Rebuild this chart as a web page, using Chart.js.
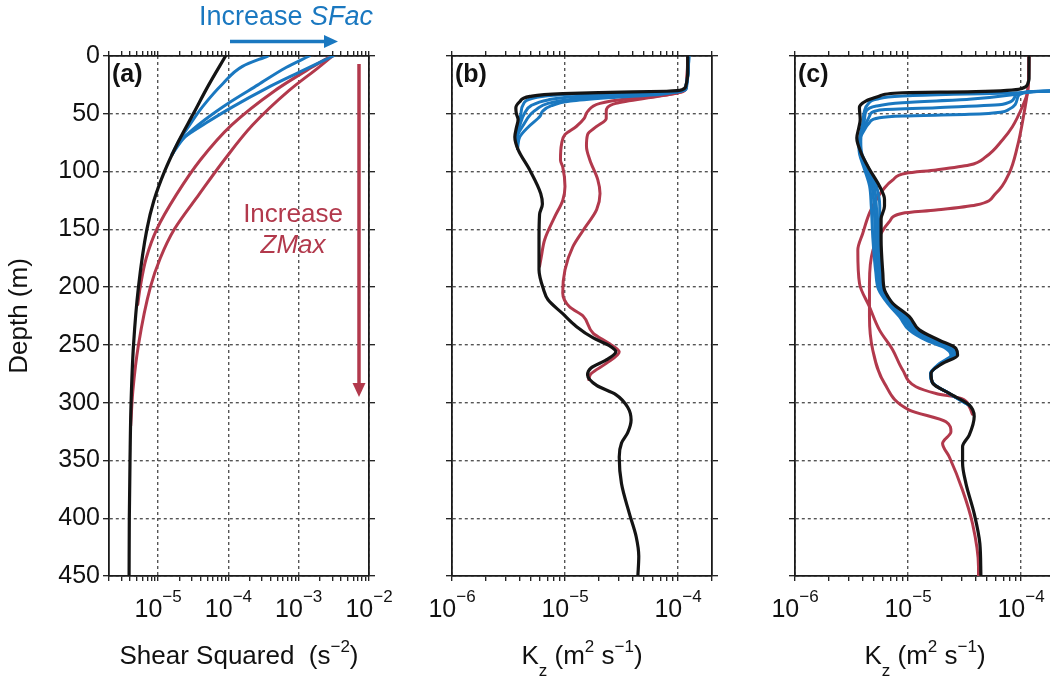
<!DOCTYPE html>
<html>
<head>
<meta charset="utf-8">
<title>Shear and Kz profiles</title>
<script src="https://cdn.jsdelivr.net/npm/chart.js@4.4.1/dist/chart.umd.min.js"></script>
<style>
  html, body { margin: 0; padding: 0; background: #fff; }
  #wrap { position: relative; width: 1050px; height: 682px; overflow: hidden; }
  #wrap canvas { position: absolute; top: 0; }
</style>
</head>
<body>
<div id="wrap">
  <canvas id="panelA" style="left:0px"></canvas>
  <canvas id="panelB" style="left:420px"></canvas>
  <canvas id="panelC" style="left:760px"></canvas>
</div>
<script>
// Profiles are [depth (m), log10(value)] pairs.

// (a) shear squared, s^-2
const shearBlack = [[0, -4.04], [25, -4.28], [50, -4.50], [75, -4.72], [100, -4.91], [125, -5.06], [150, -5.16], [200, -5.28], [250, -5.35], [300, -5.385], [350, -5.40], [400, -5.41], [450, -5.413]];
const shearBlue1 = [[0, -3.44], [9, -3.80], [24, -4.08], [44, -4.37], [64, -4.60], [73, -4.70], [85, -4.80]];
const shearBlue2 = [[0, -2.85], [10, -3.18], [25, -3.58], [40, -3.98], [55, -4.33], [70, -4.62], [85, -4.80]];
const shearBlue3 = [[0, -2.51], [14, -2.99], [28, -3.46], [44, -3.94], [58, -4.32], [70, -4.62], [78, -4.74], [85, -4.80]];
const shearRed1 = [[0, -2.54], [10, -2.82], [30, -3.34], [60, -3.96], [90, -4.40], [120, -4.74], [150, -5.02], [175, -5.17], [200, -5.255], [215, -5.29]];
const shearRed2 = [[0, -2.52], [10, -2.72], [30, -3.14], [60, -3.66], [90, -4.06], [120, -4.42], [150, -4.77], [175, -4.97], [200, -5.11], [250, -5.28], [290, -5.36], [320, -5.39]];

// (b) Kz, m^2 s^-1
const kzB_black = [[0, -3.914], [15, -3.914], [26, -3.93], [29, -3.96], [30.5, -4.10], [31.5, -4.60], [32.5, -5.02], [35, -5.31], [39.5, -5.40], [45, -5.435], [50, -5.43], [55, -5.415], [62, -5.43], [70, -5.444], [81, -5.415], [99, -5.31], [119, -5.215], [128, -5.20], [137, -5.225], [159, -5.23], [185, -5.23], [202, -5.19], [211, -5.15], [223, -5.02], [234, -4.90], [244, -4.75], [250, -4.62], [256, -4.55], [263, -4.635], [270, -4.77], [276, -4.80], [285, -4.72], [293, -4.55], [304, -4.445], [315, -4.415], [326, -4.445], [335, -4.50], [347, -4.52], [370, -4.50], [396, -4.43], [416, -4.37], [433, -4.347], [450, -4.355]];
const kzB_blue1 = [[0, -3.905], [28, -3.925], [30.5, -4.0], [31.5, -4.3], [32.5, -4.8], [34, -5.1], [37, -5.3], [42, -5.37], [50, -5.39], [61, -5.41], [70, -5.43], [80, -5.42]];
const kzB_blue2 = [[0, -3.905], [28, -3.93], [31, -4.05], [33, -4.4], [35, -4.9], [38, -5.15], [43, -5.30], [50, -5.36], [60, -5.40], [70, -5.43], [80, -5.42]];
const kzB_blue3 = [[0, -3.905], [28, -3.935], [32, -4.10], [34, -4.5], [37, -4.9], [41, -5.15], [46, -5.25], [50, -5.30], [60, -5.37], [70, -5.42], [80, -5.42]];
const kzB_blue4 = [[0, -3.905], [29, -3.94], [33, -4.15], [36, -4.6], [39, -4.95], [43, -5.12], [48, -5.20], [52, -5.22], [61, -5.32], [70, -5.40], [80, -5.42]];
const kzB_red1 = [[0, -3.914], [28, -3.93], [31, -3.97], [33.7, -4.10], [37, -4.45], [41, -4.69], [48, -4.80], [54, -4.83], [61, -4.90], [68, -5.00], [76, -5.03], [90, -5.04], [96, -5.02], [113, -5.00], [125, -5.02], [139, -5.09], [159, -5.18], [174, -5.21], [182, -5.225]];
const kzB_red2 = [[0, -3.914], [28, -3.93], [31, -3.96], [34.6, -4.16], [41, -4.55], [48, -4.635], [54, -4.635], [61, -4.72], [68, -4.80], [78, -4.81], [90, -4.78], [107, -4.71], [119, -4.69], [133, -4.72], [151, -4.84], [165, -4.93], [185, -5.00], [205, -5.02], [217, -4.96], [225, -4.84], [240, -4.75], [249, -4.605], [256, -4.52], [266, -4.635], [275, -4.77], [280, -4.79]];

// (c) Kz, m^2 s^-1
const kzC_black = [[0, -3.929], [20, -3.929], [24, -3.94], [28, -3.99], [30.9, -4.4], [31.8, -5.05], [34.6, -5.25], [38.9, -5.37], [44.7, -5.43], [55, -5.423], [62, -5.435], [71, -5.453], [84, -5.414], [98, -5.341], [112.5, -5.253], [124, -5.208], [130, -5.208], [141, -5.238], [159, -5.238], [187.5, -5.223], [202.5, -5.208], [208, -5.179], [214, -5.135], [225.5, -4.988], [237, -4.90], [246, -4.723], [253, -4.576], [259, -4.561], [266, -4.694], [274.6, -4.796], [283, -4.782], [292, -4.635], [302, -4.458], [312, -4.414], [328, -4.458], [338, -4.517], [352.5, -4.517], [370, -4.487], [396, -4.414], [422, -4.364], [449, -4.355]];
const kzC_blue1 = [[0, -3.55], [29.5, -3.55], [30.5, -3.85], [31.8, -4.02], [33.2, -4.6], [34.6, -5.05], [37.5, -5.28], [41.8, -5.356], [47.6, -5.385], [57.7, -5.40], [69.2, -5.42], [84, -5.41], [98, -5.345], [112.5, -5.28], [130, -5.25], [159, -5.255], [187, -5.24], [202, -5.215], [214, -5.14], [225.5, -5.02], [237, -4.915], [246, -4.75], [253, -4.595], [259, -4.575], [266, -4.70], [275, -4.796], [283, -4.78], [292, -4.635], [302, -4.46]];
const kzC_blue2 = [[0, -3.55], [29.5, -3.55], [30.8, -3.9], [33.2, -4.05], [37.5, -4.46], [40.4, -5.05], [43.3, -5.28], [47.6, -5.37], [54.8, -5.385], [66.3, -5.414], [84, -5.42], [98, -5.36], [112.5, -5.30], [130, -5.28], [159, -5.27], [187, -5.255], [202, -5.23], [214, -5.155], [225.5, -5.04], [237, -4.94], [246, -4.78], [253, -4.62], [259, -4.59], [266, -4.705], [275, -4.80], [283, -4.78], [292, -4.635], [302, -4.46]];
const kzC_blue3 = [[0, -3.55], [29.5, -3.55], [31, -3.92], [34.6, -4.05], [41.8, -4.16], [44.7, -4.75], [46.7, -5.25], [51.9, -5.34], [60.6, -5.385], [72.1, -5.429], [84, -5.425], [98, -5.37], [112.5, -5.32], [130, -5.30], [159, -5.29], [187, -5.27], [202, -5.245], [214, -5.17], [225.5, -5.06], [237, -4.96], [246, -4.81], [253, -4.645], [259, -4.605], [266, -4.71], [275, -4.80], [283, -4.78], [292, -4.635], [302, -4.46]];
const kzC_blue4 = [[0, -3.55], [29.5, -3.55], [31.2, -3.93], [36, -4.03], [46.1, -4.105], [50.5, -4.458], [51.9, -5.047], [53.4, -5.253], [57.7, -5.341], [66.3, -5.40], [75, -5.435], [84, -5.43], [98, -5.385], [112.5, -5.34], [130, -5.325], [159, -5.31], [187, -5.285], [202, -5.26], [214, -5.18], [225.5, -5.076], [237, -4.99], [246, -4.84], [253, -4.665], [259, -4.62], [266, -4.72], [275, -4.80], [283, -4.78], [292, -4.635], [302, -4.46]];
const kzC_red1 = [[0, -3.929], [24, -3.935], [32.3, -3.944], [43.9, -3.988], [61.2, -4.076], [72.7, -4.164], [87.2, -4.311], [94.4, -4.458], [98.6, -4.752], [101.5, -5.017], [107.3, -5.135], [116, -5.223], [124.6, -5.282], [136, -5.341], [153.4, -5.40], [168, -5.444], [197, -5.429], [217, -5.341], [237, -5.253], [254.4, -5.135], [271.7, -5.047], [286.2, -4.929], [292, -4.752], [296.3, -4.531], [303.5, -4.458], [310, -4.43]];
const kzC_red2 = [[0, -3.929], [24, -3.935], [32.3, -3.944], [49.6, -3.973], [78.5, -4.032], [101.5, -4.105], [118.8, -4.223], [128.9, -4.399], [133.3, -4.752], [136.1, -5.047], [143.3, -5.164], [153.4, -5.238], [168, -5.31], [196.7, -5.341], [225.5, -5.341], [254.4, -5.312], [283.3, -5.208], [306.4, -4.988], [316.5, -4.664], [325.2, -4.62], [335.3, -4.694], [346.8, -4.635], [375.7, -4.517], [404.6, -4.429], [442, -4.376], [450, -4.376]];

// axes
const depthTicks = [0, 50, 100, 150, 200, 250, 300, 350, 400, 450];
const shearDecades = [-5, -4, -3, -2];
const kzDecades = [-6, -5, -4];
const shearRange = [2e-6, 1e-2];
const kzRange = [1e-6, 2e-4];

const FONT = "'Liberation Sans', Arial, Helvetica, sans-serif";
const AXIS = '#1a1a1a';
const GRID = '#555555';
const TEXT = '#111111';
const BLACK = '#141414';
const BLUE = '#1a78c0';
const RED = '#b2394c';

Chart.defaults.font.family = FONT;

function isDecade(v) {
  const l = Math.log10(v);
  return Math.abs(l - Math.round(l)) < 1e-6;
}

// drop the 1.5x minor ticks so only 1..9 per decade remain
function wholeMantissa(scale) {
  scale.ticks = scale.ticks.filter(t => {
    const m = t.value / Math.pow(10, Math.floor(Math.log10(t.value) + 1e-9));
    return Math.abs(m - Math.round(m)) < 1e-4;
  });
}

function lineSet(pairs, color, width) {
  return {
    data: pairs.map(p => ({ x: Math.pow(10, p[1]), y: p[0] })),
    borderColor: color,
    borderWidth: width,
    pointRadius: 0,
    fill: false,
    cubicInterpolationMode: 'monotone',
    borderJoinStyle: 'round',
    borderCapStyle: 'round'
  };
}

function xScale(pos, range, height, onArea) {
  return {
    type: 'logarithmic', axis: 'x', position: pos,
    min: range[0], max: range[1],
    afterBuildTicks: wholeMantissa,
    afterFit: s => { s.height = height; },
    ticks: { display: false, autoSkip: false },
    grid: {
      drawOnChartArea: onArea,
      color: c => (c.tick && isDecade(c.tick.value)) ? GRID : 'rgba(0,0,0,0)',
      lineWidth: 1.4, tickColor: AXIS, tickWidth: 1.3, tickLength: 5
    },
    border: { color: AXIS, width: 1.8, dash: [3, 3] }
  };
}

function yScale(pos, width, labels, onArea) {
  return {
    type: 'linear', axis: 'y', position: pos, reverse: true,
    min: 0, max: 450,
    afterBuildTicks: s => { s.ticks = depthTicks.map(v => ({ value: v })); },
    afterFit: s => { s.width = width; },
    ticks: { display: labels, color: TEXT, font: { size: 25 }, padding: 3 },
    grid: {
      drawOnChartArea: onArea, color: GRID,
      lineWidth: 1.4, tickColor: AXIS, tickWidth: 1.3, tickLength: 6
    },
    border: { color: AXIS, width: 1.8, dash: [3, 3] }
  };
}

// draws a run of text pieces (normal / super / subscript) on one baseline
function drawRich(ctx, parts, x, baseline, centred) {
  let total = 0;
  parts.forEach(p => {
    ctx.font = (p.italic ? 'italic ' : '') + (p.size || 26) + 'px ' + FONT;
    p.w = ctx.measureText(p.t).width;
    total += p.w;
  });
  let cx = centred ? x - total / 2 : x;
  ctx.textAlign = 'left';
  parts.forEach(p => {
    ctx.font = (p.italic ? 'italic ' : '') + (p.size || 26) + 'px ' + FONT;
    ctx.fillText(p.t, cx, baseline + (p.dy || 0));
    cx += p.w;
  });
}

function arrow(ctx, x1, y1, x2, y2, color) {
  const ang = Math.atan2(y2 - y1, x2 - x1), len = 14, half = 6.5;
  const bx = x2 - len * Math.cos(ang), by = y2 - len * Math.sin(ang);
  ctx.strokeStyle = color;
  ctx.lineWidth = 3.5;
  ctx.beginPath();
  ctx.moveTo(x1, y1);
  ctx.lineTo(bx, by);
  ctx.stroke();
  ctx.fillStyle = color;
  ctx.beginPath();
  ctx.moveTo(x2, y2);
  ctx.lineTo(bx - half * Math.sin(ang), by + half * Math.cos(ang));
  ctx.lineTo(bx + half * Math.sin(ang), by - half * Math.cos(ang));
  ctx.closePath();
  ctx.fill();
}

function shearNotes(chart) {
  const ctx = chart.ctx, area = chart.chartArea;
  ctx.save();
  ctx.translate(27, (area.top + area.bottom) / 2);
  ctx.rotate(-Math.PI / 2);
  ctx.textAlign = 'center';
  ctx.font = '26px ' + FONT;
  ctx.fillStyle = TEXT;
  ctx.fillText('Depth (m)', 0, 0);
  ctx.restore();

  ctx.fillStyle = BLUE;
  drawRich(ctx, [{ t: 'Increase ', size: 27 }, { t: 'SFac', size: 27, italic: true }], 199, 25, false);
  arrow(ctx, 230, 41.5, 338, 41.5, BLUE);

  ctx.fillStyle = RED;
  ctx.textAlign = 'center';
  ctx.font = '26px ' + FONT;
  ctx.fillText('Increase', 293, 222);
  ctx.font = 'italic 26px ' + FONT;
  ctx.fillText('ZMax', 293, 253);
  arrow(ctx, 359, 64, 359, 397, RED);
}

const kzTitle = [
  { t: 'K' }, { t: 'z', size: 17, dy: 12 }, { t: ' (m' }, { t: '2', size: 17, dy: -12 },
  { t: ' s' }, { t: '\u22121', size: 17, dy: -12 }, { t: ')' }
];
const shearTitle = [{ t: 'Shear Squared  (s' }, { t: '\u22122', size: 17, dy: -12 }, { t: ')' }];

function decorations(panel) {
  return {
    id: 'decor',
    afterDraw(chart) {
      const ctx = chart.ctx, area = chart.chartArea, xs = chart.scales.x;
      ctx.save();
      ctx.fillStyle = TEXT;
      ctx.textBaseline = 'alphabetic';
      panel.decades.forEach(e => {
        drawRich(ctx, [{ t: '10', size: 25 }, { t: '\u2212' + Math.abs(e), size: 17, dy: -15 }],
          xs.getPixelForValue(Math.pow(10, e)), area.bottom + 41, true);
      });
      drawRich(ctx, panel.title, (area.left + area.right) / 2, area.bottom + 88, true);
      ctx.font = 'bold 25px ' + FONT;
      ctx.textAlign = 'left';
      ctx.fillText(panel.label, area.left + 3, area.top + 26);
      if (panel.extra) panel.extra(chart);
      ctx.restore();
    }
  };
}

function makePanel(id, panel) {
  const canvas = document.getElementById(id);
  canvas.width = panel.width;
  canvas.height = 682;
  const datasets = [];
  panel.black.forEach(s => datasets.push(lineSet(s, BLACK, 3.2)));
  panel.blue.forEach(s => datasets.push(lineSet(s, BLUE, 3)));
  panel.red.forEach(s => datasets.push(lineSet(s, RED, 3)));
  return new Chart(canvas, {
    type: 'line',
    data: { datasets },
    options: {
      responsive: false,
      animation: false,
      indexAxis: 'y',
      layout: { padding: 0 },
      plugins: { legend: { display: false }, tooltip: { enabled: false } },
      scales: {
        x: xScale('bottom', panel.range, 106, true),
        xTop: xScale('top', panel.range, 56, false),
        y: yScale('left', panel.left, panel.yLabels, true),
        yRight: yScale('right', panel.width - panel.left - 260, false, false)
      }
    },
    plugins: [decorations(panel)]
  });
}

makePanel('panelA', {
  width: 420, left: 109, range: shearRange, yLabels: true, label: '(a)',
  decades: shearDecades, title: shearTitle, extra: shearNotes,
  black: [shearBlack], blue: [shearBlue1, shearBlue2, shearBlue3], red: [shearRed1, shearRed2]
});

makePanel('panelB', {
  width: 340, left: 32, range: kzRange, yLabels: false, label: '(b)',
  decades: kzDecades, title: kzTitle,
  black: [kzB_black], blue: [kzB_blue1, kzB_blue2, kzB_blue3, kzB_blue4], red: [kzB_red1, kzB_red2]
});

makePanel('panelC', {
  width: 300, left: 35, range: kzRange, yLabels: false, label: '(c)',
  decades: kzDecades, title: kzTitle,
  black: [kzC_black], blue: [kzC_blue1, kzC_blue2, kzC_blue3, kzC_blue4], red: [kzC_red1, kzC_red2]
});
</script>
</body>
</html>
